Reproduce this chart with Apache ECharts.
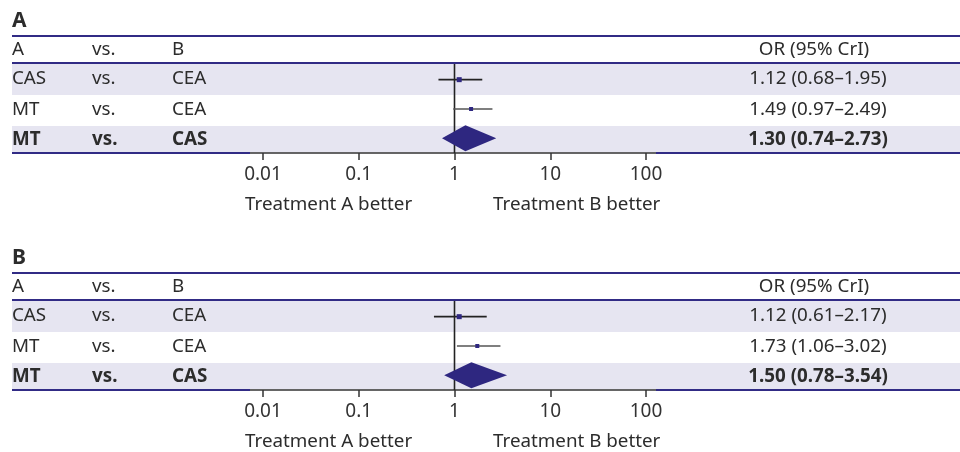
<!DOCTYPE html>
<html>
<head>
<meta charset="utf-8">
<script src="https://cdn.jsdelivr.net/npm/echarts@6/dist/echarts.min.js"></script>
<style>html,body{margin:0;padding:0;background:#fff;}#chart{width:960px;height:452px;}</style>
</head>
<body>
<div id="chart"></div>
<script>
// ---- data ----
const panelTitles = ['A', 'B'];
const headerCols = ['A', 'vs.', 'B'];
const headerOR = 'OR (95% CrI)';
const treatmentA = ['CAS', 'MT', 'MT'];
const versus = ['vs.', 'vs.', 'vs.'];
const treatmentB = ['CEA', 'CEA', 'CAS'];
const pooledRow = [false, false, true];
const orPanelA = [1.12, 1.49, 1.30];
const loPanelA = [0.68, 0.97, 0.74];
const hiPanelA = [1.95, 2.49, 2.73];
const orPanelB = [1.12, 1.73, 1.50];
const loPanelB = [0.61, 1.06, 0.78];
const hiPanelB = [2.17, 3.02, 3.54];
const tickLabels = ['0.01', '0.1', '1', '10', '100'];
const nullValue = 1;
const favourLabels = ['Treatment A better', 'Treatment B better'];

// ---- styling ----
const FONT = '"Noto Sans", sans-serif';
const NAVY = '#312b85';
const MARK = '#2e2780';
const SHADE = '#e6e5f1';
const TEXT = '#2c2c2c';
const PANEL_DY = 237;
const FS = 18.8;

const panels = [
  {or: orPanelA, lo: loPanelA, hi: hiPanelA},
  {or: orPanelB, lo: loPanelB, hi: hiPanelB}
];

function fmt(v) { return v.toFixed(2); }

function txt(x, y, text, opts) {
  opts = opts || {};
  const align = opts.align || 'left';
  return {
    type: 'text', z: 100, silent: true,
    style: {
      x: x, y: y, text: text,
      font: (opts.bold ? 'bold ' : '') + (opts.size || FS) + 'px ' + FONT,
      fill: TEXT,
      align: align, textAlign: align,
      verticalAlign: 'middle', textVerticalAlign: 'middle'
    }
  };
}
function hline(x1, x2, y, color, w) {
  return {type: 'line', z: 1, silent: true, shape: {x1: x1, y1: y, x2: x2, y2: y}, style: {stroke: color, lineWidth: w}};
}
function rect(x, y, w, h, color) {
  return {type: 'rect', z: 0, silent: true, shape: {x: x, y: y, width: w, height: h}, style: {fill: color}};
}

const graphic = [];
const colX = [12, 92, 172];
const rowTextY = [79, 109.5, 139.5];
panels.forEach(function (pd, p) {
  const dy = p * PANEL_DY;
  graphic.push(rect(12, 64 + dy, 948, 31, SHADE));
  graphic.push(rect(12, 126 + dy, 948, 26.5, SHADE));
  graphic.push(txt(12, 21 + dy, panelTitles[p], {bold: true, size: 21}));
  graphic.push(hline(12, 960, 36 + dy, NAVY, 2));
  headerCols.forEach(function (h, c) { graphic.push(txt(colX[c], 50 + dy, h)); });
  graphic.push(txt(814, 50 + dy, headerOR, {align: 'center'}));
  graphic.push(hline(12, 960, 63 + dy, NAVY, 2));
  for (let r = 0; r < treatmentA.length; r++) {
    const b = pooledRow[r];
    graphic.push(txt(colX[0], rowTextY[r] + dy, treatmentA[r], {bold: b}));
    graphic.push(txt(colX[1], rowTextY[r] + dy, versus[r], {bold: b}));
    graphic.push(txt(colX[2], rowTextY[r] + dy, treatmentB[r], {bold: b}));
    graphic.push(txt(818, rowTextY[r] + dy,
      fmt(pd.or[r]) + ' (' + fmt(pd.lo[r]) + '\u2013' + fmt(pd.hi[r]) + ')', {bold: b, align: 'center'}));
  }
  graphic.push(hline(12, 250, 153 + dy, NAVY, 2));
  graphic.push(hline(656, 960, 153 + dy, NAVY, 2));
  graphic.push(hline(250, 656, 153 + dy, '#333', 1.5));
  graphic.push(txt(245, 205 + dy, favourLabels[0]));
  graphic.push(txt(493, 205 + dy, favourLabels[1]));
});

function renderForest(params, api) {
  const row = api.value(3);
  const isPooled = api.value(4) === 1;
  const lo = api.coord([api.value(0), row]);
  const est = api.coord([api.value(1), row]);
  const hi = api.coord([api.value(2), row]);
  if (isPooled) {
    return {
      type: 'polygon',
      shape: {points: [[lo[0], lo[1]], [est[0], est[1] - 13], [hi[0], hi[1]], [est[0], est[1] + 13]]},
      style: {fill: MARK}
    };
  }
  const s = row === 0 ? 5 : 4;
  return {
    type: 'group',
    children: [
      {type: 'line', shape: {x1: lo[0], y1: lo[1], x2: hi[0], y2: hi[1]},
       style: {stroke: row === 0 ? '#222' : '#555', lineWidth: 1.6}},
      {type: 'rect', shape: {x: est[0] - s / 2, y: est[1] - s / 2, width: s, height: s}, style: {fill: MARK}}
    ]
  };
}
function renderNull(params, api) {
  const p = api.coord([api.value(0), 0]);
  const cs = params.coordSys;
  return {type: 'line', shape: {x1: p[0], y1: cs.y - 1, x2: p[0], y2: cs.y + cs.height},
          style: {stroke: '#222', lineWidth: 1.6}};
}

const series = [];
panels.forEach(function (pd, p) {
  series.push({
    type: 'custom', xAxisIndex: p, yAxisIndex: p, z: 1, silent: true,
    renderItem: renderNull, data: [[nullValue, 0]], encode: {x: 0, y: 1}
  });
  series.push({
    type: 'custom', xAxisIndex: p, yAxisIndex: p, z: 3, silent: true,
    renderItem: renderForest,
    encode: {x: [0, 1, 2], y: 3},
    data: pd.or.map(function (v, r) { return [pd.lo[r], v, pd.hi[r], r, pooledRow[r] ? 1 : 0]; })
  });
});

const option = {
  animation: false,
  backgroundColor: '#fff',
  grid: [
    {left: 263, right: 314, top: 65, height: 88},
    {left: 263, right: 314, top: 65 + PANEL_DY, height: 88}
  ],
  xAxis: [0, 1].map(function (i) {
    return {
      type: 'log', logBase: 10, gridIndex: i, min: 0.01, max: 100,
      axisLine: {show: false},
      axisTick: {show: true, length: 7, lineStyle: {color: '#333', width: 1.5}},
      axisLabel: {
        fontSize: 19, fontFamily: FONT, color: '#333', margin: 12,
        formatter: function (v) { return tickLabels[Math.round(Math.log10(v)) + 2]; }
      },
      splitLine: {show: false}, minorTick: {show: false}
    };
  }),
  yAxis: [0, 1].map(function (i) {
    return {type: 'category', gridIndex: i, data: ['0', '1', '2'], inverse: true, show: false};
  }),
  graphic: graphic,
  series: series
};

const chart = echarts.init(document.getElementById('chart'), null, {renderer: 'canvas'});
chart.setOption(option);
</script>
</body>
</html>
